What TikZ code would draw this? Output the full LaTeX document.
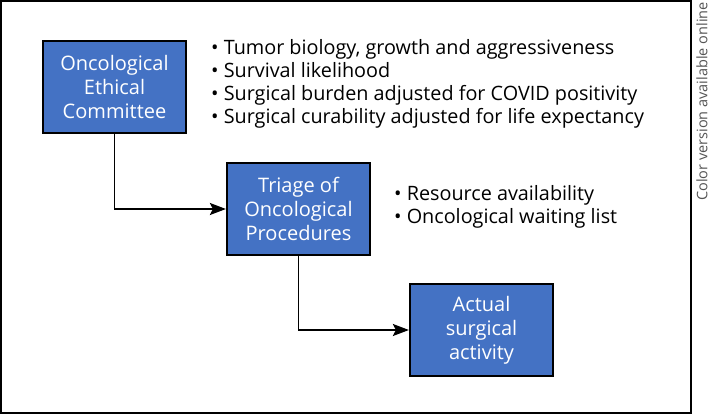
\documentclass[tikz,border=0pt]{standalone}
\usepackage{fontspec}
\setmainfont{Open Sans}
\usetikzlibrary{arrows.meta}
\definecolor{boxblue}{HTML}{4472C4}
\definecolor{notegray}{HTML}{555555}
\tikzset{
    stage/.style={draw=black, line width=2.2pt, fill=boxblue, text=white, minimum width=143pt,
        minimum height=92pt, inner sep=0pt, align=center, font=\fontsize{20}{24}\selectfont},
    criteria/.style={anchor=west, inner sep=0pt, align=left, font=\fontsize{19.8}{23}\selectfont},
    flow/.style={line width=1.8pt, -{Stealth[length=16pt,width=12pt,inset=3pt]}},
}
\begin{document}
\begin{tikzpicture}[x=1pt,y=-1pt]
    \useasboundingbox (0,0) rectangle (710,415);
    \draw[line width=2pt] (1,1) rectangle (691,413);
    % stages
    \node[stage] (ethics) at (114.5,87) {Oncological\\Ethical\\Committee};
    \node[stage] (triage) at (298.5,209) {Triage of\\Oncological\\Procedures};
    \node[stage] (surgery) at (481.5,330) {Actual\\surgical\\activity};
    % criteria lists
    \node[criteria] (ethicslist) at (211,84) {\textbullet\ Tumor biology, growth and aggressiveness\\
        \textbullet\ Survival likelihood\\
        \textbullet\ Surgical burden adjusted for COVID positivity\\
        \textbullet\ Surgical curability adjusted for life expectancy};
    \node[criteria] (triagelist) at (394,207) {\textbullet\ Resource availability\\
        \textbullet\ Oncological waiting list};
    % connectors
    \draw[flow] (ethics) |- (triage);
    \draw[flow] (triage) |- (surgery);
    \node[rotate=90, anchor=east, inner sep=0pt, text=notegray, font=\fontsize{14.5}{16}\selectfont] (note) at (702,2) {Color version available online};
\end{tikzpicture}
\end{document}
